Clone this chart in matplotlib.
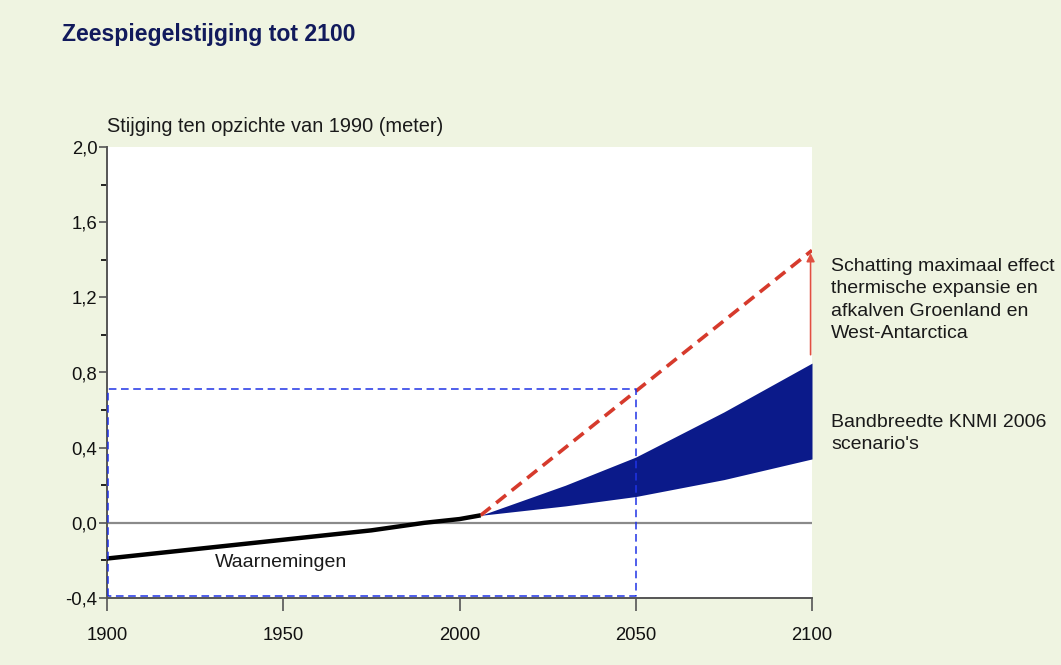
import matplotlib
matplotlib.use("Agg")
import matplotlib.pyplot as plt
from matplotlib.ticker import MultipleLocator, FuncFormatter

plt.rcParams['font.family'] = ['Liberation Sans', 'DejaVu Sans']

# Data
obs_years = [1900, 1925, 1950, 1975, 1990, 2000, 2006]
obs_vals = [-0.19, -0.14, -0.09, -0.04, 0.0, 0.02, 0.04]

max_years = [2006, 2050, 2100]
max_vals = [0.04, 0.70, 1.45]

band_years = [2006, 2030, 2050, 2075, 2100]
band_upper = [0.04, 0.20, 0.35, 0.59, 0.85]
band_lower = [0.04, 0.09, 0.14, 0.23, 0.34]

box_x = [1900, 2050]
box_y = [-0.39, 0.71]

arrow_x = 2100
arrow_y = [0.88, 1.45]

x_ticks = [1900, 1950, 2000, 2050, 2100]

title = "Zeespiegelstijging tot 2100"
ylabel = "Stijging ten opzichte van 1990 (meter)"
obs_label = "Waarnemingen"
max_label = "Schatting maximaal effect\nthermische expansie en\nafkalven Groenland en\nWest-Antarctica"
band_label = "Bandbreedte KNMI 2006\nscenario's"

bg = "#eff4e1"
fig = plt.figure(figsize=(10.61, 6.65), dpi=100, facecolor=bg)
ax = fig.add_axes([107/1061, 1-598/665, (812-107)/1061, (598-147)/665])
ax.set_facecolor("white")

ax.set_xlim(1900, 2100)
ax.set_ylim(-0.4, 2.0)

# zero line
ax.axhline(0, color="#8a8a8a", lw=1.6, zorder=2)

# band
ax.fill_between(band_years, band_lower, band_upper, color="#0b1a8a", lw=0, zorder=3)

# observations
ax.plot(obs_years, obs_vals, color="black", lw=3.2, zorder=5, solid_capstyle="butt")

# max effect dashed
ax.plot(max_years, max_vals, color="#d63a2c", lw=2.6, ls=(0, (3.5, 2)), zorder=4)

# arrow
ax.annotate("", xy=(arrow_x - 0.4, arrow_y[1]), xytext=(arrow_x - 0.4, arrow_y[0]),
            arrowprops=dict(arrowstyle="-|>", color="#e05040", lw=1.2, mutation_scale=12),
            annotation_clip=False, zorder=6)

# blue dashed box
bx0, bx1 = box_x
by0, by1 = box_y
ax.plot([bx0 + 0.3, bx0 + 0.3, bx1, bx1, bx0 + 0.3], [by0, by1, by1, by0, by0],
        color="#1f33e6", lw=1.1, ls=(0, (5, 3)), zorder=7, clip_on=False)

# ticks
ax.set_xticks(x_ticks)
ax.yaxis.set_major_locator(MultipleLocator(0.4))
ax.yaxis.set_minor_locator(MultipleLocator(0.2))
ax.yaxis.set_major_formatter(FuncFormatter(lambda v, p: f"{v:.1f}".replace(".", ",").replace("-0,0", "0,0")))
ax.tick_params(axis="both", colors="#555555", labelcolor="#111111", labelsize=13.3)
ax.tick_params(axis="x", length=9, width=1.2, pad=12)
ax.tick_params(axis="y", which="major", length=6, width=1.2, pad=1)
ax.tick_params(axis="y", which="minor", length=4, width=1.2)

for s in ["top", "right"]:
    ax.spines[s].set_visible(False)
for s in ["left", "bottom"]:
    ax.spines[s].set_color("#555555")
    ax.spines[s].set_linewidth(1.4)

# texts
fig.text(62/1061, 1-35/665, title, fontsize=16.6, fontweight="bold", color="#111a5c",
         va="center", ha="left")
fig.text(107/1061, 1-127/665, ylabel, fontsize=14.4, color="#1a1a1a", va="center", ha="left")
ax.text(1949.5, -0.21, obs_label, fontsize=14, color="#1a1a1a", ha="center", va="center", zorder=8)
ax.text(2105.5, 1.186, max_label, fontsize=14, color="#1a1a1a", ha="left", va="center",
        linespacing=1.4, clip_on=False)
ax.text(2105.5, 0.475, band_label, fontsize=14, color="#1a1a1a", ha="left", va="center",
        linespacing=1.4, clip_on=False)

fig.savefig("out.png", dpi=100, facecolor=bg)
